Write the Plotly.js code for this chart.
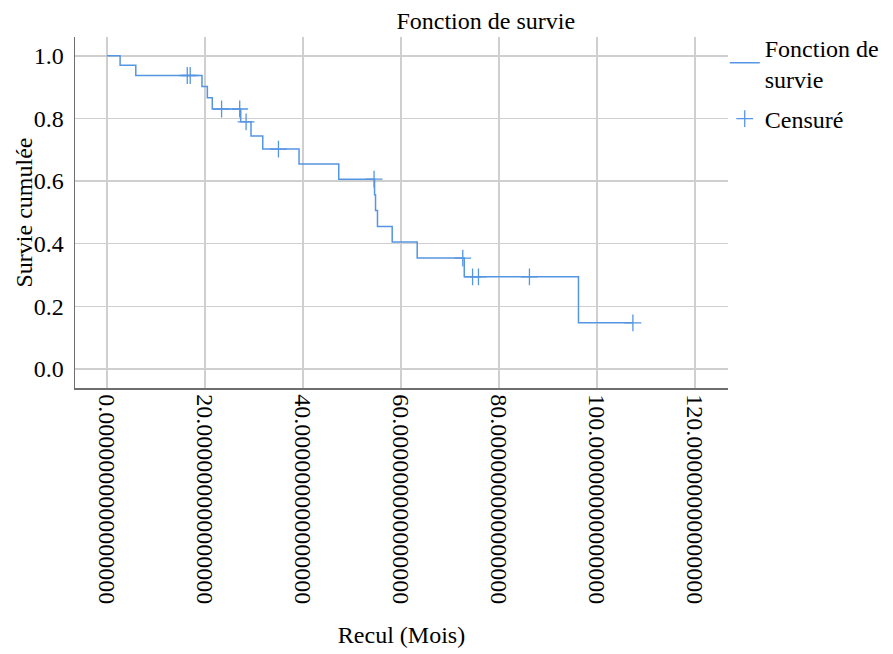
<!DOCTYPE html>
<html>
<head>
<meta charset="utf-8">
<script src="https://cdn.plot.ly/plotly-3.0.1.min.js"></script>
<style>html,body{margin:0;padding:0;background:#fff;}</style>
</head>
<body>
<div id="chart" style="width:893px;height:654px;"></div>
<script>
// Survival step function (time in months, cumulative survival)
const survTimes = [0, 2.7, 5.9, 19.4, 20.5, 21.5, 27.3, 29.4, 31.8, 39.2, 47.3, 54.6, 54.8, 55.2, 58.2, 63.3, 72.9, 96.2, 107.3];
const survValues = [1.0, 0.970, 0.937, 0.902, 0.866, 0.830, 0.789, 0.744, 0.702, 0.654, 0.606, 0.556, 0.506, 0.455, 0.405, 0.354, 0.294, 0.147, 0.147];

// Censored observations
const censTimes = [16.4, 17.0, 23.4, 27.1, 28.4, 35.0, 54.5, 72.6, 74.6, 75.8, 86.2, 107.3];
const censValues = [0.937, 0.937, 0.830, 0.830, 0.789, 0.702, 0.606, 0.354, 0.294, 0.294, 0.294, 0.147];

// Axis ticks
const xTickVals = [0, 20, 40, 60, 80, 100, 120];
const xTickText = ["0.0000000000000000", "20.000000000000000", "40.000000000000000", "60.000000000000000", "80.000000000000000", "100.00000000000000", "120.00000000000000"];
const yTickVals = [0, 0.2, 0.4, 0.6, 0.8, 1.0];
const yTickText = ["0.0", "0.2", "0.4", "0.6", "0.8", "1.0"];

const blue = '#5595e3';
const fontFam = '"Liberation Serif", "Times New Roman", serif';

const traces = [
  {
    x: survTimes, y: survValues, type: 'scatter', mode: 'lines',
    line: {shape: 'hv', color: blue, width: 1.5},
    name: 'Fonction de<br>survie', legendgroup: 'surv'
  },
  {
    x: censTimes, y: censValues, type: 'scatter', mode: 'markers',
    marker: {symbol: 'cross-thin-open', size: 12, color: blue, line: {color: blue, width: 1.3}},
    name: 'Censuré', legendgroup: 'cens'
  }
];

const layout = {
  width: 893, height: 654,
  margin: {l: 75, r: 165, t: 37, b: 266, autoexpand: false},
  paper_bgcolor: '#fff', plot_bgcolor: '#fff',
  font: {family: fontFam, size: 24, color: '#000'},
  title: {text: 'Fonction de survie', font: {family: fontFam, size: 24, color: '#000'},
          xref: 'paper', x: 0.629, xanchor: 'center', yref: 'container', y: 0.969, yanchor: 'middle'},
  xaxis: {
    range: [-6.5, 126.7], tickmode: 'array', tickvals: xTickVals, ticktext: xTickText,
    tickangle: 90, showgrid: true, gridcolor: '#cfcfcf', gridwidth: 1.5, zeroline: false,
    showline: true, linecolor: '#6e6e6e', linewidth: 1.5, ticks: '', automargin: false,
    tickfont: {family: fontFam, size: 24, color: '#000'},
    title: {text: 'Recul (Mois)', font: {family: fontFam, size: 24, color: '#000'}, standoff: 23}
  },
  yaxis: {
    range: [-0.061, 1.06], tickmode: 'array', tickvals: yTickVals, ticktext: yTickText,
    showgrid: true, gridcolor: '#cfcfcf', gridwidth: 1.5, zeroline: false,
    showline: true, linecolor: '#6e6e6e', linewidth: 1.5, ticks: '', automargin: false,
    ticklabelstandoff: 5,
    tickfont: {family: fontFam, size: 24, color: '#000'}
  },
  annotations: [{
    text: 'Survie cumulée', textangle: -90, showarrow: false,
    xref: 'paper', x: -0.0796, xanchor: 'center', yref: 'paper', y: 0.5, yanchor: 'middle',
    font: {family: fontFam, size: 24, color: '#000'}
  }],
  showlegend: true,
  legend: {x: 0.995, xanchor: 'left', y: 1.034, yanchor: 'top', bgcolor: 'rgba(0,0,0,0)',
           font: {family: fontFam, size: 24, color: '#000'}, tracegroupgap: 6, itemwidth: 30}
};

Plotly.newPlot('chart', traces, layout, {displayModeBar: false, staticPlot: true});
</script>
</body>
</html>
